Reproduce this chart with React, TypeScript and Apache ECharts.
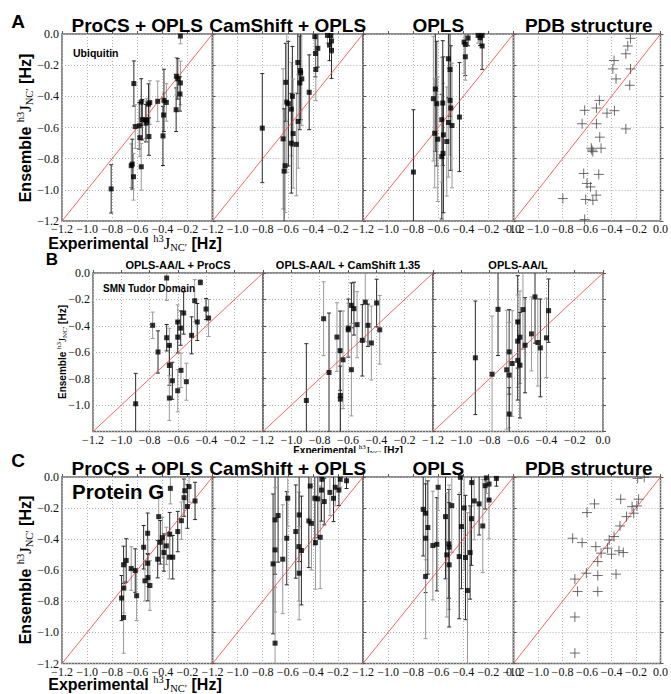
import React, { useEffect, useRef } from 'react';
import * as echarts from 'echarts';

type E = [number, number, number];
type Q = [number, number];

// ---------- data: [experimental, ensemble, error] ----------
const ubqProcs: E[] = [
  [-0.808, -0.994, 0.155], [-0.648, -0.845, 0.14], [-0.64, -0.835, 0.16], [-0.63, -0.916, 0.15],
  [-0.627, -0.318, 0.145], [-0.616, -0.594, 0.14], [-0.584, -0.589, 0.15], [-0.579, -0.665, 0.12],
  [-0.568, -0.437, 0.15], [-0.568, -0.852, 0.15], [-0.56, -0.55, 0.13], [-0.535, -0.55, 0.12],
  [-0.53, -0.572, 0.12], [-0.525, -0.555, 0.14], [-0.51, -0.45, 0.13], [-0.5, -0.44, 0.14],
  [-0.507, -0.658, 0.12], [-0.437, -0.432, 0.13], [-0.395, -0.654, 0.19], [-0.39, -0.52, 0.14],
  [-0.387, -0.426, 0.2], [-0.368, -0.439, 0.12], [-0.29, -0.486, 0.14], [-0.288, -0.271, 0.12],
  [-0.277, -0.288, 0.13], [-0.256, -0.314, 0.14], [-0.259, -0.385, 0.11], [-0.256, -0.013, 0.05],
];
const ubqCamshift: E[] = [
  [-0.803, -0.604, 0.35], [-0.637, -0.673, 0.45], [-0.629, -0.88, 0.4], [-0.621, -0.845, 0.3],
  [-0.616, -0.31, 0.25], [-0.608, -0.437, 0.45], [-0.595, -0.447, 0.4], [-0.571, -0.482, 0.3],
  [-0.563, -0.4, 0.32], [-0.557, -0.639, 0.35], [-0.571, -0.701, 0.32], [-0.531, -0.708, 0.33],
  [-0.52, -0.183, 0.2], [-0.517, -0.561, 0.3], [-0.504, -0.314, 0.3], [-0.499, -0.235, 0.25],
  [-0.497, -0.25, 0.3], [-0.488, -0.288, 0.3], [-0.429, -0.374, 0.24], [-0.384, -0.017, 0.1],
  [-0.379, -0.125, 0.15], [-0.376, -0.228, 0.2], [-0.36, -0.092, 0.12], [-0.283, -0.009, 0.05],
  [-0.267, -0.071, 0.1], [-0.251, -0.045, 0.08], [-0.251, -0.105, 0.18], [-0.256, -0.01, 0.06],
];
const ubqOpls: E[] = [
  [-0.798, -0.886, 0.4], [-0.639, -0.415, 0.4], [-0.623, -0.353, 0.4], [-0.628, -0.637, 0.35],
  [-0.612, -0.447, 0.4], [-0.604, -0.675, 0.4], [-0.572, -0.787, 0.4], [-0.562, -0.766, 0.45],
  [-0.564, -0.443, 0.4], [-0.572, -0.55, 0.4], [-0.559, -0.647, 0.5], [-0.532, -0.69, 0.35],
  [-0.519, -0.159, 0.25], [-0.519, -0.568, 0.35], [-0.506, -0.228, 0.3], [-0.506, -0.426, 0.35],
  [-0.5, -0.475, 0.4], [-0.49, -0.587, 0.4], [-0.431, -0.533, 0.35], [-0.394, -0.052, 0.2],
  [-0.384, -0.067, 0.2], [-0.384, -0.146, 0.15], [-0.362, -0.026, 0.05], [-0.282, -0.009, 0.05],
  [-0.266, -0.024, 0.05], [-0.25, -0.009, 0.06], [-0.25, -0.077, 0.15],
];
const ubqPdb: Q[] = [
  [-0.245, -0.028], [-0.267, -0.077], [-0.283, -0.127], [-0.379, -0.17], [-0.389, -0.224],
  [-0.245, -0.224], [-0.363, -0.288], [-0.251, -0.329], [-0.499, -0.426], [-0.619, -0.49],
  [-0.523, -0.475], [-0.437, -0.508], [-0.376, -0.492], [-0.64, -0.576], [-0.523, -0.576],
  [-0.283, -0.609], [-0.496, -0.662], [-0.565, -0.733], [-0.552, -0.755], [-0.485, -0.733],
  [-0.56, -0.745], [-0.627, -0.895], [-0.504, -0.901], [-0.6, -0.959], [-0.571, -0.981],
  [-0.797, -1.056], [-0.611, -1.062], [-0.525, -1.034], [-0.552, -1.067], [-0.619, -1.19],
];
const smnProcs: E[] = [
  [-0.899, -0.99, 0.23], [-0.779, -0.396, 0.1], [-0.741, -0.598, 0.16], [-0.68, -0.038, 0.17],
  [-0.68, -0.49, 0.1], [-0.661, -0.548, 0.13], [-0.661, -0.7, 0.15], [-0.661, -0.947, 0.17],
  [-0.64, -0.816, 0.14], [-0.602, -0.371, 0.13], [-0.602, -0.485, 0.12], [-0.602, -0.891, 0.16],
  [-0.581, -0.417, 0.13], [-0.579, -0.737, 0.13], [-0.56, -0.303, 0.16], [-0.541, -0.823, 0.14],
  [-0.504, -0.472, 0.14], [-0.482, -0.21, 0.16], [-0.464, -0.371, 0.14], [-0.442, -0.071, 0.02],
  [-0.402, -0.273, 0.08], [-0.384, -0.341, 0.14],
];
const smnCamshift: E[] = [
  [-0.894, -0.965, 0.43], [-0.772, -0.346, 0.28], [-0.734, -0.753, 0.45], [-0.678, -0.485, 0.26],
  [-0.656, -0.588, 0.3], [-0.654, -0.927, 0.35], [-0.654, -0.955, 0.25], [-0.635, -0.657, 0.37],
  [-0.598, -0.417, 0.22], [-0.598, -0.43, 0.2], [-0.576, -0.245, 0.17], [-0.576, -0.732, 0.35],
  [-0.558, -0.27, 0.2], [-0.536, -0.391, 0.25], [-0.499, -0.51, 0.27], [-0.478, -0.22, 0.3],
  [-0.459, -0.396, 0.16], [-0.435, -0.53, 0.28], [-0.398, -0.227, 0.18], [-0.376, -0.43, 0.26],
];
const smnOpls: E[] = [
  [-0.901, -0.642, 0.43], [-0.783, -0.766, 0.44], [-0.741, -0.275, 0.35], [-0.68, -0.733, 0.45],
  [-0.662, -0.597, 0.32], [-0.662, -0.773, 0.4], [-0.662, -1.068, 0.2], [-0.641, -0.685, 0.4],
  [-0.602, -0.37, 0.35], [-0.602, -0.516, 0.35], [-0.602, -0.662, 0.3], [-0.586, -0.486, 0.35],
  [-0.586, -0.698, 0.4], [-0.565, -0.277, 0.3], [-0.55, -0.547, 0.36], [-0.505, -0.461, 0.28],
  [-0.48, -0.181, 0.35], [-0.46, -0.526, 0.33], [-0.442, -0.567, 0.37], [-0.399, -0.491, 0.3],
  [-0.384, -0.285, 0.24],
];
const gbProcs: E[] = [
  [-0.725, -0.779, 0.145], [-0.709, -0.904, 0.23], [-0.709, -0.565, 0.12], [-0.707, -0.715, 0.16],
  [-0.688, -0.537, 0.14], [-0.648, -0.589, 0.14], [-0.616, -0.602, 0.14], [-0.605, -0.764, 0.16],
  [-0.549, -0.452, 0.14], [-0.539, -0.668, 0.13], [-0.517, -0.362, 0.13], [-0.517, -0.555, 0.15],
  [-0.515, -0.647, 0.15], [-0.499, -0.698, 0.16], [-0.437, -0.529, 0.12], [-0.429, -0.255, 0.15],
  [-0.416, -0.42, 0.14], [-0.4, -0.39, 0.13], [-0.387, -0.486, 0.12], [-0.368, -0.443, 0.12],
  [-0.341, -0.368, 0.14], [-0.344, -0.516, 0.14], [-0.317, -0.516, 0.14], [-0.336, -0.073, 0.1],
  [-0.277, -0.351, 0.13], [-0.248, -0.281, 0.12], [-0.227, -0.133, 0.12], [-0.221, -0.088, 0.1],
  [-0.2, -0.19, 0.14], [-0.187, -0.062, 0.1], [-0.139, -0.154, 0.12],
];
const gbCamshift: E[] = [
  [-0.717, -0.559, 0.45], [-0.701, -1.069, 0.36], [-0.701, -0.276, 0.35], [-0.701, -0.469, 0.4],
  [-0.677, -0.248, 0.3], [-0.64, -0.529, 0.35], [-0.608, -0.394, 0.3], [-0.6, -0.137, 0.18],
  [-0.536, -0.351, 0.3], [-0.512, -0.448, 0.35], [-0.509, -0.244, 0.3], [-0.509, -0.619, 0.3],
  [-0.491, -0.473, 0.35], [-0.421, -0.058, 0.2], [-0.432, -0.283, 0.3], [-0.411, -0.298, 0.3],
  [-0.384, -0.137, 0.3], [-0.379, -0.422, 0.3], [-0.36, -0.141, 0.25], [-0.341, -0.388, 0.33],
  [-0.331, -0.084, 0.2], [-0.328, -0.015, 0.15], [-0.309, -0.158, 0.15], [-0.264, -0.099, 0.15],
  [-0.235, -0.137, 0.15], [-0.221, -0.066, 0.12], [-0.192, -0.084, 0.1], [-0.181, -0.015, 0.05],
  [-0.131, -0.024, 0.05],
];
const gbOpls: E[] = [
  [-0.72, -0.208, 0.3], [-0.701, -0.233, 0.3], [-0.701, -0.394, 0.35], [-0.701, -0.64, 0.4],
  [-0.683, -0.325, 0.3], [-0.643, -0.441, 0.35], [-0.611, -0.433, 0.3], [-0.601, -0.066, 0.15],
  [-0.542, -0.255, 0.4], [-0.532, -0.501, 0.4], [-0.516, -0.43, 0.35], [-0.513, -0.452, 0.4],
  [-0.513, -0.565, 0.4], [-0.492, -0.184, 0.3], [-0.433, -0.512, 0.4], [-0.423, -0.002, 0.1],
  [-0.415, -0.319, 0.4], [-0.394, -0.199, 0.4], [-0.383, -0.518, 0.4], [-0.367, -0.73, 0.5],
  [-0.346, -0.486, 0.3], [-0.333, -0.036, 0.15], [-0.335, -0.268, 0.3], [-0.313, -0.154, 0.25],
  [-0.274, -0.173, 0.2], [-0.245, -0.315, 0.3], [-0.226, -0.056, 0.15], [-0.216, -0.006, 0.1],
  [-0.195, -0.045, 0.1], [-0.195, -0.148, 0.25], [-0.136, -0.009, 0.05],
];
const gbPdb: Q[] = [
  [-0.187, -0.009], [-0.133, -0.002], [-0.325, -0.143], [-0.179, -0.143], [-0.539, -0.173],
  [-0.6, -0.229], [-0.232, -0.191], [-0.192, -0.186], [-0.219, -0.233], [-0.277, -0.255],
  [-0.331, -0.315], [-0.379, -0.383], [-0.419, -0.405], [-0.717, -0.394], [-0.64, -0.422],
  [-0.528, -0.448], [-0.432, -0.458], [-0.485, -0.49], [-0.4, -0.497], [-0.339, -0.475],
  [-0.304, -0.486], [-0.512, -0.544], [-0.605, -0.619], [-0.512, -0.634], [-0.363, -0.625],
  [-0.699, -0.657], [-0.677, -0.737], [-0.512, -0.737], [-0.699, -0.901], [-0.699, -1.133],
];

const axisTicks = [-1.2, -1.0, -0.8, -0.6, -0.4, -0.2, 0.0];
const identityLine: Q[] = [[-1.2, -1.2], [0, 0]];
const titlesA = ['ProCS + OPLS', 'CamShift + OPLS', 'OPLS', 'PDB structure'];
const titlesB = ['OPLS-AA/L + ProCS', 'OPLS-AA/L + CamShift 1.35', 'OPLS-AA/L'];

const SANS = '"Liberation Sans", Arial, Helvetica, sans-serif';
const SERIF = '"Liberation Serif", "Times New Roman", serif';

type Panel = {
  left: number; top: number; width: number; height: number;
  err?: E[]; pdb?: Q[]; showZeroX: boolean; yLabels: 'all' | 'noBottom' | 'none';
};

const fmt = (v: number) => {
  const r = Math.round(v * 10) / 10;
  if (r === 0) return '0.0';
  return (r < 0 ? '\u2212' : '') + Math.abs(r).toFixed(1);
};

function buildOption() {
  const lefts4 = [62, 212.5, 363, 513.5];
  const lefts3 = [93, 263, 433];
  const panels: Panel[] = [];
  const rowA = [ubqProcs, ubqCamshift, ubqOpls];
  const rowC = [gbProcs, gbCamshift, gbOpls];
  for (let i = 0; i < 4; i++) {
    panels.push({ left: lefts4[i], top: 34, width: 150.5, height: 187,
      err: i < 3 ? rowA[i] : undefined, pdb: i === 3 ? ubqPdb : undefined,
      showZeroX: i >= 2, yLabels: i === 0 ? 'all' : 'none' });
  }
  const rowB = [smnProcs, smnCamshift, smnOpls];
  for (let i = 0; i < 3; i++) {
    panels.push({ left: lefts3[i], top: 273, width: 170, height: 158.5,
      err: rowB[i], showZeroX: i === 2, yLabels: i === 0 ? 'noBottom' : 'none' });
  }
  for (let i = 0; i < 4; i++) {
    panels.push({ left: lefts4[i], top: 477, width: 150.5, height: 186.5,
      err: i < 3 ? rowC[i] : undefined, pdb: i === 3 ? gbPdb : undefined,
      showZeroX: i >= 2, yLabels: i === 0 ? 'all' : 'none' });
  }

  const grid: any[] = [], xAxis: any[] = [], yAxis: any[] = [], series: any[] = [];
  panels.forEach((p, i) => {
    grid.push({ left: p.left, top: p.top, width: p.width, height: p.height, show: true,
      borderColor: '#6a6a6a', borderWidth: 1.5, backgroundColor: 'transparent' });
    const common = {
      type: 'value', gridIndex: i, min: axisTicks[0], max: axisTicks[axisTicks.length - 1], interval: 0.2,
      axisLine: { show: false },
      axisTick: { show: true, inside: true, length: 3, lineStyle: { color: '#555' } },
      splitLine: { show: true, lineStyle: { type: [1, 2], color: '#b5b5b5', width: 1 } },
    };
    xAxis.push({ ...common,
      axisLabel: { show: true, margin: 2, fontFamily: SERIF, fontSize: 12, color: '#111',
        showMinLabel: true, showMaxLabel: true,
        formatter: (v: number) => (Math.abs(v) < 1e-9 && !p.showZeroX ? '' : fmt(v)) } });
    yAxis.push({ ...common,
      axisLabel: { show: p.yLabels !== 'none', margin: 3, fontFamily: SERIF, fontSize: 12, color: '#111',
        showMinLabel: true, showMaxLabel: true,
        formatter: (v: number) => (p.yLabels === 'noBottom' && v < -1.1 ? '' : fmt(v)) } });
    series.push({ type: 'line', xAxisIndex: i, yAxisIndex: i, data: identityLine, symbol: 'none',
      silent: true, z: 3, lineStyle: { color: '#ff3b3b', width: 0.8 } });
    if (p.err) {
      series.push({
        type: 'custom', xAxisIndex: i, yAxisIndex: i, data: p.err, clip: true, z: 2, silent: true,
        encode: { x: 0, y: 1 },
        renderItem: (params: any, api: any) => {
          const x = api.value(0), y = api.value(1), e = api.value(2);
          const t = api.coord([x, y + e]);
          const b = api.coord([x, y - e]);
          const c = 2;
          const col = params.dataIndex % 2 ? '#9a9a9a' : '#2a2a2a';
          const st = { stroke: col, lineWidth: 1 };
          return { type: 'group', children: [
            { type: 'line', shape: { x1: t[0], y1: t[1], x2: b[0], y2: b[1] }, style: st },
            { type: 'line', shape: { x1: t[0] - c, y1: t[1], x2: t[0] + c, y2: t[1] }, style: st },
            { type: 'line', shape: { x1: b[0] - c, y1: b[1], x2: b[0] + c, y2: b[1] }, style: st },
          ] };
        },
      });
      series.push({ type: 'scatter', xAxisIndex: i, yAxisIndex: i, data: p.err.map((d) => [d[0], d[1]]),
        symbol: 'rect', symbolSize: 5, z: 4, silent: true, itemStyle: { color: '#000' } });
    }
    if (p.pdb) {
      series.push({ type: 'scatter', xAxisIndex: i, yAxisIndex: i, data: p.pdb,
        symbol: 'path://M0,5L10,5M5,0L5,10', symbolSize: 10, z: 4, silent: true,
        itemStyle: { color: 'transparent', borderColor: '#4a4a4a', borderWidth: 1 } });
    }
  });

  const rich = (size: number, sup: number) => ({
    a: { fontFamily: SANS, fontWeight: 'bold', fontSize: size, lineHeight: size * 1.25, fill: '#000' },
    s: { fontFamily: SERIF, fontSize: sup, lineHeight: sup, verticalAlign: 'top', fill: '#000' },
    j: { fontFamily: SERIF, fontSize: size * 1.05, lineHeight: size * 1.25, fill: '#000' },
    b: { fontFamily: SERIF, fontSize: sup, lineHeight: sup, verticalAlign: 'bottom', fill: '#000' },
  });
  const ensemble = '{a|Ensemble }{s|h3}{j|J}{b|NC\u2032}{a| [Hz]}';
  const experimental = '{a|Experimental }{s|h3}{j|J}{b|NC\u2032}{a| [Hz]}';
  const bold = (text: string, x: number, y: number, size: number, align = 'center') => ({
    type: 'text', x, y, z: 100,
    style: { text, fontFamily: SANS, fontWeight: 'bold', fontSize: size, fill: '#000', align, verticalAlign: 'middle' },
  });
  const graphic: any[] = [];
  titlesA.forEach((t, i) => {
    graphic.push(bold(t, lefts4[i] + 75.25, 25, 19));
    graphic.push(bold(t, lefts4[i] + 75.25, 468, 19));
  });
  titlesB.forEach((t, i) => graphic.push(bold(t, lefts3[i] + 85, 265, 11)));
  graphic.push(bold('A', 18, 21, 19));
  graphic.push(bold('B', 52, 259, 17));
  graphic.push(bold('C', 18, 460, 19));
  graphic.push(bold('Ubiquitin', 73, 53, 10.5, 'left'));
  graphic.push(bold('SMN Tudor Domain', 103, 288, 10, 'left'));
  graphic.push(bold('Protein G', 72, 491, 20.5, 'left'));
  const richText = (text: string, x: number, y: number, size: number, sup: number, rot: number) => ({
    type: 'text', x, y, rotation: rot, z: 100,
    style: { text, rich: rich(size, sup), align: 'center', verticalAlign: 'middle' },
  });
  graphic.push(richText(ensemble, 25, 128, 16, 10.5, Math.PI / 2));
  graphic.push(richText(ensemble, 25, 570, 16, 10.5, Math.PI / 2));
  graphic.push(richText(ensemble, 62, 352, 10, 7, Math.PI / 2));
  graphic.push(richText(experimental, 135, 243, 16, 10.5, 0));
  graphic.push(richText(experimental, 135, 684, 16, 10.5, 0));
  graphic.push(richText(experimental, 348, 450, 10, 7, 0));
  graphic.push({ type: 'rect', z: 101, shape: { x: 280, y: 453, width: 140, height: 5 }, style: { fill: '#fff' } });

  return { animation: false, backgroundColor: '#fff', grid, xAxis, yAxis, series, graphic };
}

export default function App() {
  const ref = useRef<HTMLDivElement>(null);
  useEffect(() => {
    if (!ref.current) return;
    const chart = echarts.init(ref.current, undefined, { renderer: 'svg' });
    chart.setOption(buildOption() as any);
    return () => chart.dispose();
  }, []);
  return <div ref={ref} style={{ position: 'fixed', left: 0, top: 0, width: 671, height: 694, background: '#fff' }} />;
}
